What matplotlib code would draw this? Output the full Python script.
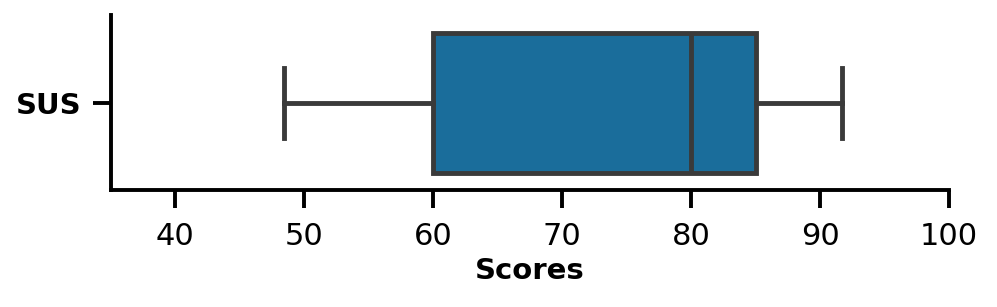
import matplotlib
matplotlib.use("Agg")
import matplotlib.pyplot as plt

# box statistics
categories = ["SUS"]
whisker_low = [48.4]
q1 = [60.0]
median = [80.0]
q3 = [85.0]
whisker_high = [91.7]
x_ticks = [40, 50, 60, 70, 80, 90, 100]

box_color = "#1a6d9b"
line_color = "#3a3a3a"

fig = plt.figure(figsize=(9.97, 3.07), dpi=100)
ax = fig.add_axes([0.1113, 0.381, 0.8405, 0.570])

stats = []
for i in range(len(categories)):
    stats.append({
        "label": categories[i],
        "whislo": whisker_low[i],
        "q1": q1[i],
        "med": median[i],
        "q3": q3[i],
        "whishi": whisker_high[i],
        "fliers": [],
    })

lw = 3.5
ax.bxp(stats, positions=range(len(categories)), vert=False, widths=0.8,
       patch_artist=True, showfliers=False,
       boxprops=dict(facecolor=box_color, edgecolor=line_color, linewidth=lw),
       medianprops=dict(color=line_color, linewidth=lw),
       whiskerprops=dict(color=line_color, linewidth=lw),
       capprops=dict(color=line_color, linewidth=lw),
       capwidths=0.4)

ax.set_xlim(35, 100)
ax.set_ylim(0.5, -0.5)
ax.set_xticks(x_ticks)
ax.set_yticks(range(len(categories)))
ax.set_yticklabels(categories, fontweight="bold", fontsize=21)

for side in ["top", "right"]:
    ax.spines[side].set_visible(False)
for side in ["left", "bottom"]:
    ax.spines[side].set_linewidth(2.8)

ax.tick_params(axis="both", length=13, width=2.8)
ax.tick_params(axis="x", labelsize=22, pad=10)
ax.tick_params(axis="y", pad=8)
ax.set_xlabel("Scores", fontsize=21, fontweight="bold", labelpad=4)

fig.savefig("out.png", dpi=100)
